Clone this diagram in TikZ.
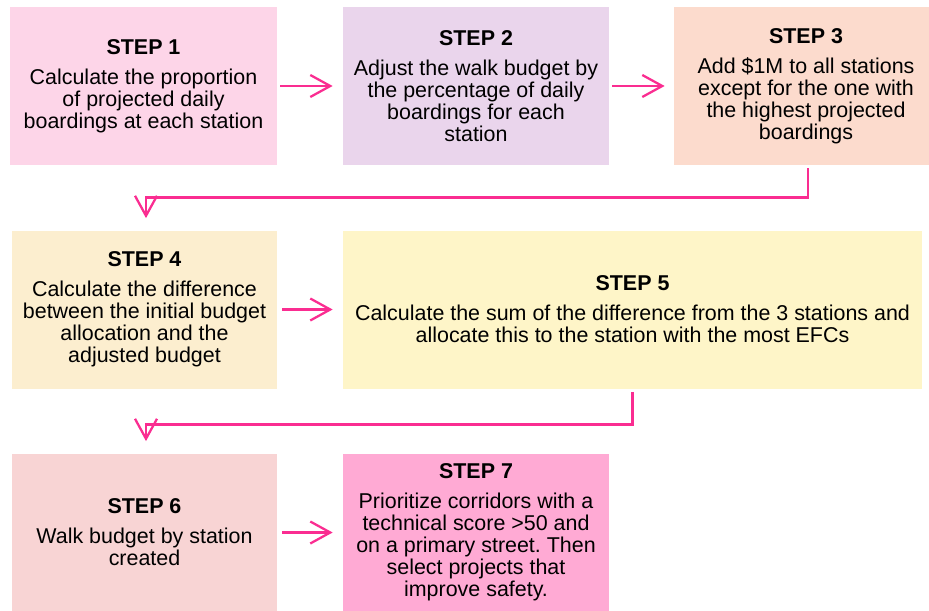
\documentclass[tikz,border=0pt]{standalone}
\usepackage{fontspec}
\setmainfont{Liberation Sans}
\usepackage{xcolor}
\usetikzlibrary{arrows.meta, positioning}
\frenchspacing

\definecolor{pinkA}{RGB}{253,213,232}
\definecolor{lilac}{RGB}{234,213,236}
\definecolor{peach}{RGB}{252,219,205}
\definecolor{sand}{RGB}{252,238,207}
\definecolor{cream}{RGB}{254,245,200}
\definecolor{rose}{RGB}{248,212,212}
\definecolor{pinkB}{RGB}{255,170,212}
\definecolor{arrowpink}{RGB}{250,45,145}

\tikzset{
  stepbox/.style={inner sep=0pt, align=center, minimum height=158*0.02cm},
  flow/.style={draw=arrowpink, line width=1.6pt, -{Straight Barb[length=0.4cm, width=0.44cm, line width=1.3pt]}},
}
\newcommand{\steptitle}[1]{\textbf{#1}\\[0.16cm]}

\begin{document}
\begin{tikzpicture}[x=0.02cm, y=-0.02cm, font=\fontsize{12.2}{12.5}\selectfont]
  \useasboundingbox (0,0) rectangle (929,611);
  % first row
  \node[stepbox, fill=pinkA, minimum width=267*0.02cm] (s1) at (143.5,86)
    {\steptitle{STEP 1}Calculate the proportion\\of projected daily\\boardings at each station};
  \node[stepbox, fill=lilac, minimum width=266*0.02cm] (s2) at (476,86)
    {\steptitle{STEP 2}Adjust the walk budget by\\the percentage of daily\\boardings for each\\station};
  \node[stepbox, fill=peach, minimum width=264*0.02cm] (s3) at (806,86)
    {\steptitle{STEP 3}Add \$1M to all stations\\except for the one with\\the highest projected\\boardings};
  % second row
  \node[stepbox, fill=sand, minimum width=265*0.02cm] (s4) at (144.5,309.5)
    {\steptitle{STEP 4}Calculate the difference\\between the initial budget\\allocation and the\\adjusted budget};
  \node[stepbox, fill=cream, minimum width=579*0.02cm] (s5) at (632.5,309.5)
    {\steptitle{STEP 5}Calculate the sum of the difference from the 3 stations and\\allocate this to the station with the most EFCs};
  % third row
  \node[stepbox, fill=rose, minimum width=265*0.02cm] (s6) at (144.5,532.5)
    {\steptitle{STEP 6}Walk budget by station\\created};
  \node[stepbox, fill=pinkB, minimum width=266*0.02cm] (s7) at (476,532.5)
    {\steptitle{STEP 7}Prioritize corridors with a\\technical score >50 and\\on a primary street. Then\\select projects that\\improve safety.};
  % connectors
  \draw[flow] ([xshift=3*0.02cm]s1.east) -- ([xshift=-10*0.02cm]s2.west);
  \draw[flow] ([xshift=3*0.02cm]s2.east) -- ([xshift=-9*0.02cm]s3.west);
  \draw[flow] ([xshift=5*0.02cm]s4.east) -- ([xshift=-10*0.02cm]s5.west);
  \draw[flow] ([xshift=5*0.02cm]s6.east) -- ([xshift=-10*0.02cm]s7.west);
  \draw[flow] ([xshift=2*0.02cm, yshift=-3*0.02cm]s3.south) -- ++(0,29) -| ([xshift=1.5*0.02cm, yshift=12*0.02cm]s4.north);
  \draw[flow] ([yshift=-3*0.02cm]s5.south) -- ++(0,33) -| ([xshift=1.5*0.02cm, yshift=12*0.02cm]s6.north);
\end{tikzpicture}
\end{document}
